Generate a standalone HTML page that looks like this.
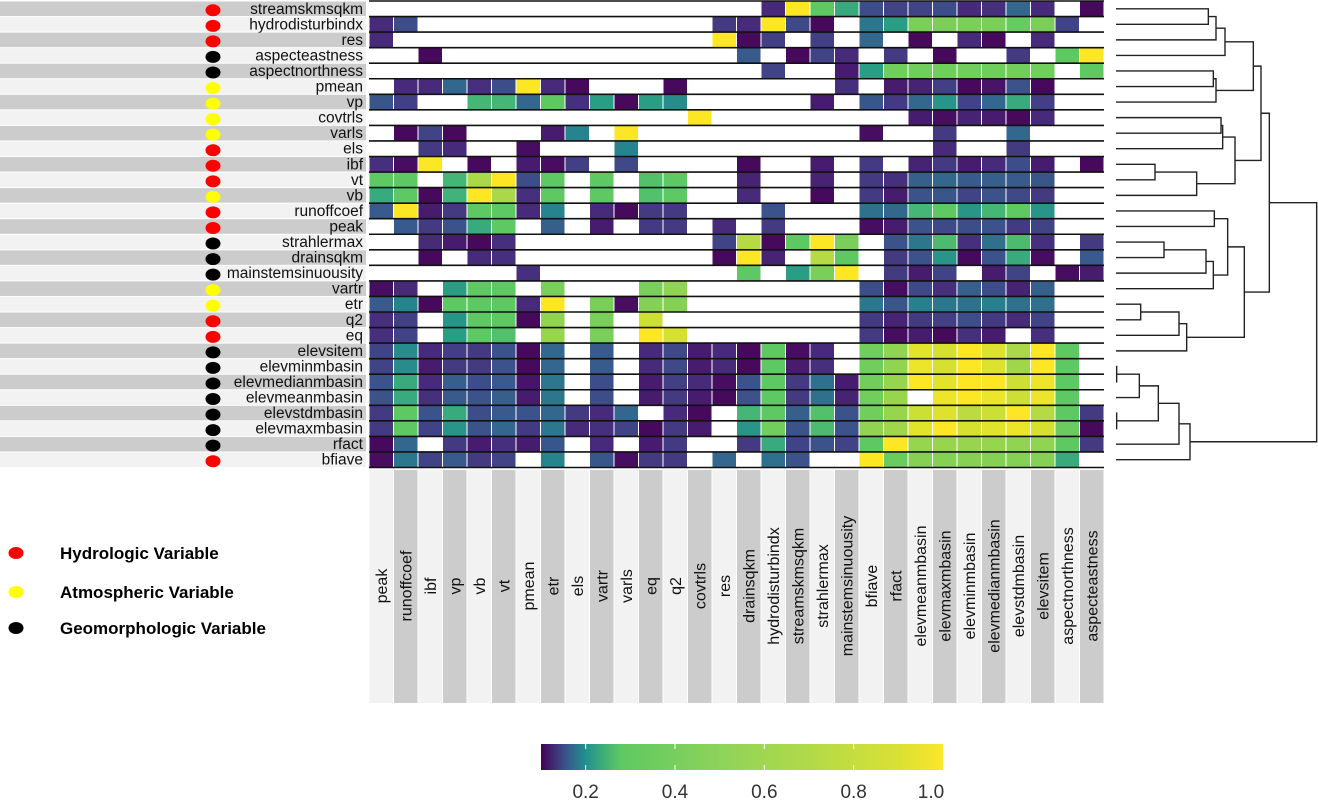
<!DOCTYPE html>
<html><head><meta charset="utf-8"><style>
html,body{margin:0;padding:0;background:#fff;}
svg{display:block;font-family:"Liberation Sans",Arial,sans-serif;}
</style></head><body>
<svg id="chart" width="1318" height="800" viewBox="0 0 1318 800" xmlns="http://www.w3.org/2000/svg">
<g id="legend">
  <ellipse cx="16" cy="553" rx="7.5" ry="6" fill="#ff0000"/>
  <text x="60" y="559" font-size="17" font-weight="bold">Hydrologic Variable</text>
  <ellipse cx="16" cy="592" rx="7.5" ry="6" fill="#ffff00"/>
  <text x="60" y="598" font-size="17" font-weight="bold">Atmospheric Variable</text>
  <ellipse cx="16" cy="628" rx="7.5" ry="6" fill="#000000"/>
  <text x="60" y="634" font-size="17" font-weight="bold">Geomorphologic Variable</text>
</g>
<defs>
  <linearGradient id="cbar" x1="0" x2="1" y1="0" y2="0">
    <stop offset="0" stop-color="#440154"/>
    <stop offset="0.06" stop-color="#3b528b"/>
    <stop offset="0.111" stop-color="#21908d"/>
    <stop offset="0.2" stop-color="#5ec962"/>
    <stop offset="0.45" stop-color="#8fd35a"/>
    <stop offset="0.67" stop-color="#b2da48"/>
    <stop offset="0.89" stop-color="#d9e134"/>
    <stop offset="1" stop-color="#fbe62a"/>
  </linearGradient>
</defs>
</svg>
<script>
const rowNames=["streamskmsqkm","hydrodisturbindx","res","aspecteastness","aspectnorthness","pmean","vp","covtrls","varls","els","ibf","vt","vb","runoffcoef","peak","strahlermax","drainsqkm","mainstemsinuousity","vartr","etr","q2","eq","elevsitem","elevminmbasin","elevmedianmbasin","elevmeanmbasin","elevstdmbasin","elevmaxmbasin","rfact","bfiave"];
const rowTypes=["H","H","H","G","G","A","A","A","A","H","H","H","A","H","H","G","G","G","A","A","H","H","G","G","G","G","G","G","G","H"];
const colNames=["peak","runoffcoef","ibf","vp","vb","vt","pmean","etr","els","vartr","varls","eq","q2","covtrls","res","drainsqkm","hydrodisturbindx","streamskmsqkm","strahlermax","mainstemsinuousity","bfiave","rfact","elevmeanmbasin","elevmaxmbasin","elevminmbasin","elevmedianmbasin","elevstdmbasin","elevsitem","aspectnorthness","aspecteastness"];
const n=null;
const values=[
[n,n,n,n,n,n,n,n,n,n,n,n,n,n,n, n,.17,1,.55,.45,.24,.22,.22,.24,.17,.18,.3,.17,n,.12],
[.17,.24,n,n,n,n,n,n,n,n,n,n,n,n,.2, .17,1,.23,.12,n,.33,.42,.62,.62,.62,.62,.57,.62,.22,n],
[.17,n,n,n,n,n,n,n,n,n,n,n,n,n,1, .12,.21,n,.21,n,.3,n,.12,n,.17,.12,n,.17,n,n],
[n,n,.12,n,n,n,n,n,n,n,n,n,n,n,n, .27,n,.12,.22,.17,n,.2,n,.12,n,n,.2,n,.55,1],
[n,n,n,n,n,n,n,n,n,n,n,n,n,n,n, n,.22,n,n,.15,.42,.6,.6,.6,.6,.6,.6,.6,n,.55],
[n,.17,.17,.3,.18,.24,1,.17,.12,n,n,n,.12,n,n, n,n,n,n,.18,n,.15,.16,.21,.12,.14,.25,.12,n,n],
[.26,.21,n,n,.48,.48,.3,.55,.18,.42,.12,.42,.38,n,n, n,n,n,.15,n,.26,.2,.3,.4,.22,.3,.45,.21,n,n],
[n,n,n,n,n,n,n,n,n,n,n,n,n,1,n, n,n,n,n,n,n,n,.15,.13,.16,.15,.12,.17,n,n],
[n,.12,.22,.12,n,n,n,.15,.36,n,1,n,n,n,n, n,n,n,n,n,.13,n,n,.2,n,n,.3,n,n,n],
[n,n,.2,.17,n,n,.13,n,n,n,.36,n,n,n,n, n,n,n,n,n,n,n,n,.17,n,n,.2,n,n,n],
[.18,.13,1,n,.12,n,.15,.13,.21,n,.23,n,n,n,n, .12,n,n,.15,n,.2,n,.16,.2,.15,.17,.24,.15,n,.12],
[.55,.55,n,.48,.75,1,.24,.55,n,.55,n,.52,.55,n,n, .16,n,n,.16,n,.2,.18,.28,.3,.27,.28,.27,.26,n,n],
[.45,.55,.12,.47,1,.75,.18,.55,n,.55,n,.52,.55,n,n, .17,n,n,.12,n,.2,.15,.25,.26,.22,.25,.23,.2,n,n],
[.27,1,.15,.2,.55,.55,.17,.36,n,.17,.12,.2,.2,n,n, n,.25,n,n,n,.32,.3,.48,.55,.4,.48,.55,.4,n,n],
[n,.27,.2,.25,.45,.55,n,.28,n,.15,n,.2,.2,n,.17, n,.2,n,n,n,.13,.15,.25,.23,.24,.25,.2,.22,n,n],
[n,n,.17,.15,.12,.18,n,n,n,n,n,n,n,n,.22, .78,.12,.55,1,.62,n,.25,.33,.5,.18,.32,.5,.18,n,.2],
[n,n,.12,n,.17,.18,n,n,n,n,n,n,n,n,.12, 1,.16,n,.78,.55,n,.2,.25,.4,.12,.25,.45,.13,n,.27],
[n,n,n,n,n,n,.18,n,n,n,n,n,n,n,n, .55,n,.42,.62,1,n,.2,.15,.22,n,.15,.22,n,.13,.15],
[.13,.17,n,.42,.55,.55,n,.62,n,n,n,.62,.68,n,n, n,n,n,n,n,.24,.13,.23,.18,.28,.24,.16,.28,n,n],
[.27,.36,.12,.55,.55,.55,.17,1,n,.62,.13,.65,.65,n,n, n,n,n,n,n,.33,.26,.35,.33,.32,.35,.32,.32,n,n],
[.18,.21,n,.4,.55,.55,.12,.68,n,.62,n,.85,n,n,n, n,n,n,n,n,.2,.16,.2,.21,.24,.2,.17,.22,n,n],
[.18,.22,n,.42,.55,.52,n,.7,n,.62,n,1,.88,n,n, n,n,n,n,n,.2,.13,.15,.12,.18,.15,n,.18,n,n],
[.22,.38,.17,.21,.2,.25,.12,.3,n,.27,n,.17,.23,.15,.17, .12,.55,.13,.17,n,.6,.68,.92,.88,1,.9,.75,1,.55,n],
[.22,.38,.15,.2,.2,.25,.12,.3,n,.27,n,.17,.23,.15,.17, .12,.55,.15,.18,n,.6,.68,.95,.88,1,.9,.72,1,.55,n],
[.25,.45,.17,.28,.24,.27,.14,.33,n,.24,n,.15,.21,.17,.13, .25,.55,.2,.32,.15,.6,.7,1,.92,1,1,.85,.95,.55,n],
[.25,.45,.18,.27,.25,.28,.15,.33,n,.24,n,.15,.2,.15,.12, .25,.55,.2,.32,.16,.6,.7,n,.95,1,.95,.85,.95,.55,n],
[.2,.55,.25,.45,.24,.27,.25,.3,.2,.17,.3,n,.17,.12,n, .48,.55,.28,.52,.25,.6,.7,.85,.9,.8,.85,1,.78,.55,.2],
[.2,.55,.22,.4,.25,.3,.2,.33,.17,.18,.22,.12,.2,.15,n, .4,.6,.25,.5,.25,.68,.72,.92,1,.88,.92,.95,.88,.58,.12],
[.12,.3,n,.2,.15,.18,.15,.26,n,.17,n,.15,.2,n,n, .2,.45,.22,.25,.22,.55,1,.7,.7,.7,.7,.68,.68,.55,.2],
[.13,.33,.22,.27,.2,.22,n,.36,n,.26,.13,.2,.2,n,.3, n,.32,.25,n,n,1,.58,.65,.65,.65,.65,.65,.65,.45,n]
];
const cbTicks=[0.2,0.4,0.6,0.8,1.0];
const cbTickLabels=["0.2","0.4","0.6","0.8","1.0"];
const merges={
 N1:[0,1,325], N2:["N1",2,348], N3:["N2",3,375],
 N4:[4,5,340], N5:["N4",6,348], N6:["N3","N5",460],
 N7:[7,8,363], N8:["N7",9,368], N9:[10,11,165], N10:["N9",12,290], N11:["N8","N10",405],
 N12:["N6","N11",483],
 N13:[13,14,343], N14:[15,16,192], N15:["N14",17,318], N16:["N15",18,340], N17:["N13","N16",383],
 N18:[19,20,122], N19:["N18",21,237], N20:["N19",22,260], N21:["N17","N20",433],
 N22:["N12","N21",508],
 N23:[23,24,50], N24:["N23",25,118], N25:[26,27,50], N26:["N24","N25",175], N27:["N26",28,237], N28:["N27",29,270],
 ROOT:["N22","N28",650]
};

const NS="http://www.w3.org/2000/svg";
const svg=document.getElementById('chart');
function mk(tag,attrs,parent){const e=document.createElementNS(NS,tag);for(const k in attrs)e.setAttribute(k,attrs[k]);(parent||svg).appendChild(e);return e;}
const X0=369,CW=24.5,Y0=1,RH=15.55;
const xS=j=>X0+j*CW, yS=i=>Y0+i*RH;
const stops=[[0.1,"#440154"],[0.13,"#470d60"],[0.17,"#472a7a"],[0.21,"#423f85"],[0.25,"#3b528b"],[0.3,"#33678d"],[0.36,"#26848e"],[0.42,"#2a9d85"],[0.48,"#45b676"],[0.55,"#5ec962"],[0.62,"#79cf5a"],[0.7,"#98d54f"],[0.78,"#b5da44"],[0.88,"#d5e12e"],[1.0,"#fde725"]];
function hx(h){return [1,3,5].map(i=>parseInt(h.substr(i,2),16));}
function color(v){v=Math.max(0.1,Math.min(1,v));for(let k=1;k<stops.length;k++){if(v<=stops[k][0]){const a=stops[k-1],b=stops[k];const t=(v-a[0])/(b[0]-a[0]);const ca=hx(a[1]),cb=hx(b[1]);return "rgb("+ca.map((c,i)=>Math.round(c+(cb[i]-c)*t)).join(",")+")";}}return stops[stops.length-1][1];}

const rowG=mk('g',{});


rowNames.forEach((nm,i)=>{
  const r=mk('rect',{x:0,y:yS(i)+0.5,width:366,height:RH-1,fill:i%2===0?"#cccccc":"#f2f2f2"},rowG);
  
  
  const c=rowTypes[i]==="H"?"#ff0000":rowTypes[i]==="A"?"#ffff00":"#000000";
  const d=mk('ellipse',{cx:213,cy:yS(i)+RH/2+1.5,rx:7.5,ry:6,fill:c},rowG);
  
  
  const t=mk('text',{x:363,y:yS(i)+RH/2+5,"font-size":15.5,"text-anchor":"end",fill:"#111"},rowG);
  t.textContent=nm;
  
  
});
const colG=mk('g',{});


colNames.forEach((nm,j)=>{
  const r=mk('rect',{x:xS(j)+0.5,y:470,width:CW-1,height:233,fill:j%2===0?"#f2f2f2":"#cccccc"},colG);
  
  
  const cx=xS(j)+CW/2+5.5;
  const t=mk('text',{x:cx,y:586,"font-size":16,"text-anchor":"middle",transform:"rotate(-90 "+cx+" 586)",fill:"#111"},colG);
  t.textContent=nm;
  
  
});
const cellG=mk('g',{});


values.forEach((row,i)=>row.forEach((v,j)=>{
  if(v===null)return;
  const r=mk('rect',{x:xS(j)+0.5,y:yS(i),width:CW-1,height:RH,fill:color(v)},cellG);
  
  
}));
for(let i=0;i<=rowNames.length;i++){
  const l=mk('line',{x1:X0,x2:xS(colNames.length),y1:yS(i),y2:yS(i),stroke:"#111","stroke-width":1.6});
  
  
}
const dG=mk('g',{fill:"none",stroke:"#222","stroke-width":1.4});


function draw(node){
  if(typeof node==="number")return {x:1116,y:yS(node)+RH/2};
  const m=merges[node];
  const a=draw(m[0]),b=draw(m[1]);const x=1100+m[2]/3;
  const p=mk('path',{d:"M"+a.x+" "+a.y+"H"+x+"V"+b.y+"H"+b.x},dG);
  
  
  return {x:x,y:(a.y+b.y)/2};
}
draw("ROOT");
const cbG=mk('g',{});


const CB0=541,CB1=943,cbX=v=>CB0+(v-0.1)/(1.0-0.1)*(CB1-CB0);
const cb=mk('rect',{x:CB0,y:744,width:CB1-CB0,height:26,fill:"url(#cbar)"},cbG);


cbTicks.forEach((v,k)=>{
  if(v<1){
    const l=mk('line',{x1:cbX(v),x2:cbX(v),y1:744,y2:749,stroke:"#fff","stroke-width":1},cbG);
    
    
    const l2=mk('line',{x1:cbX(v),x2:cbX(v),y1:765,y2:770,stroke:"#fff","stroke-width":1},cbG);
    
    
  }
  const t=mk('text',{x:Math.min(cbX(v),931),y:798,"font-size":19,"text-anchor":"middle",fill:"#333"},cbG);
  t.textContent=cbTickLabels[k];
  
  
});
</script>
</body></html>
